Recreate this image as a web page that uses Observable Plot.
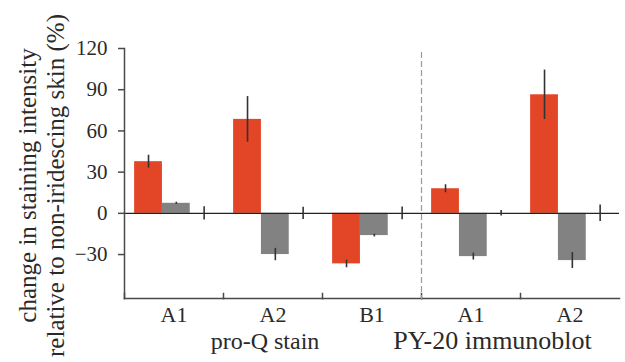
<!DOCTYPE html>
<html>
<head>
<meta charset="utf-8">
<script src="https://cdn.jsdelivr.net/npm/d3@7"></script>
<script src="https://cdn.jsdelivr.net/npm/@observablehq/plot@0.6"></script>
<style>
  html, body { margin: 0; padding: 0; background: #fff; }
  #chart svg text { font-family: "Liberation Serif", "Times New Roman", serif !important; }
</style>
</head>
<body>
<div id="chart"></div>
<script>
// ---- data ----
const groupKeys   = ["pQ-A1", "pQ-A2", "pQ-B1", "PY-A1", "PY-A2"];
const groupLabels = ["A1", "A2", "B1", "A1", "A2"];
const seriesNames = ["iridescent", "other", "baseline"];
const redValues   = [37.6, 68.4, -36.8, 17.9, 86.3];
const redErrors   = [4.7, 16.6, 2.8, 2.9, 18.0];
const grayValues  = [7.3, -30.0, -16.2, -31.5, -34.4];
const grayErrors  = [0.8, 4.5, 1.0, 2.5, 5.8];
const ctrlValues  = [0, 0, 0, 0, 0];
const ctrlErrors  = [4.8, 4.5, 4.6, 2.0, 6.0];
const yTicks      = [-30, 0, 30, 60, 90, 120];
const yTitle      = "change in staining intensity\nrelative to non-iridescing skin (%)";
const sectionLabels = [
  {g: "pQ-A2", t: "pro-Q stain"},
  {g: "PY-A2", t: "PY-20 immunoblot"}
];

const rows = [];
groupKeys.forEach((g, i) => {
  rows.push({g, s: seriesNames[0], v: redValues[i],  e: redErrors[i]});
  rows.push({g, s: seriesNames[1], v: grayValues[i], e: grayErrors[i]});
  rows.push({g, s: seriesNames[2], v: ctrlValues[i], e: ctrlErrors[i]});
});
const labelOf = new Map(groupKeys.map((k, i) => [k, groupLabels[i]]));

const FONT = "Liberation Serif";
const AX = "#4a4a4a";
const TXT = "#2a2a2a";

const chart = Plot.plot({
  width: 625,
  height: 362,
  marginLeft: 122,
  marginRight: 5,
  marginTop: 48,
  marginBottom: 64,
  style: {fontFamily: FONT, fontSize: "20px", color: TXT, background: "#fff", overflow: "visible"},
  fx: {domain: groupKeys, padding: 0, axis: null},
  x: {domain: seriesNames, paddingInner: 0, paddingOuter: 0.28, align: 0.65, round: false, axis: null},
  y: {domain: [-62, 120], axis: null},
  color: {domain: seriesNames.slice(0, 2), range: ["#e34527", "#828282"]},
  marks: [
    Plot.barY(rows.filter(d => d.s !== "baseline"), {fx: "g", x: "s", y: "v", fill: "s"}),
    Plot.ruleY([0], {stroke: "#222", strokeWidth: 1.3}),
    Plot.ruleX(rows, {fx: "g", x: "s", y1: d => d.v - d.e, y2: d => d.v + d.e, stroke: "#333", strokeWidth: 1.6}),
    // bottom axis line and group boundary ticks
    Plot.frame({anchor: "bottom", stroke: AX, strokeWidth: 1.5}),
    Plot.frame({anchor: "left", insetTop: 245, stroke: AX, strokeWidth: 1.5}),
    // dashed separator between sections
    Plot.frame({anchor: "left", fx: () => "PY-A1", insetTop: 4, stroke: "#9a9a9a", strokeWidth: 1.2, strokeDasharray: "5,4"}),
    // y axis
    Plot.axisY({ticks: yTicks, tickSize: 6, tickPadding: 11, label: null, stroke: AX, strokeWidth: 1.5, fill: TXT, fontFamily: FONT, fontSize: 21}),
    Plot.frame({anchor: "left", fx: () => "pQ-A1", stroke: AX, strokeWidth: 1.5}),
    // group labels
    Plot.axisFx({anchor: "bottom", tickSize: 0, tickPadding: 8, label: null, tickFormat: d => labelOf.get(d), fill: TXT, fontFamily: FONT, fontSize: 22}),
    Plot.text(sectionLabels.slice(0, 1), {fx: "g", text: "t", frameAnchor: "bottom", textAnchor: "middle", dx: -8, dy: 50, fill: TXT, fontFamily: FONT, fontSize: 24}),
    Plot.text(sectionLabels.slice(1), {fx: "g", text: "t", frameAnchor: "bottom-left", textAnchor: "middle", dx: -28, dy: 50, fill: TXT, fontFamily: FONT, fontSize: 26}),
    // y title
    Plot.text([{g: "pQ-A1", t: yTitle}], {fx: "g", text: "t", frameAnchor: "left", rotate: -90, textAnchor: "middle", lineHeight: 1.12, dx: -83, dy: 12, fill: TXT, fontFamily: FONT, fontSize: 25})
  ]
});
document.getElementById("chart").appendChild(chart);
</script>
</body>
</html>
